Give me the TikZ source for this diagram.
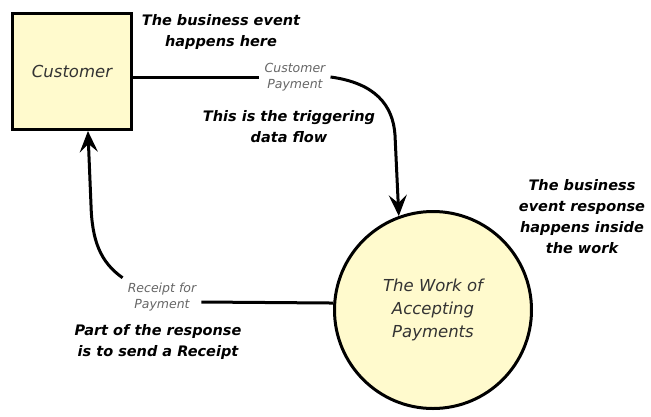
\documentclass[tikz,border=0pt]{standalone}
\usepackage{fontspec}
\setmainfont{DejaVu Sans}
\usetikzlibrary{arrows.meta}
\definecolor{paleyellow}{RGB}{255,250,205}
\tikzset{
  flow/.style={line width=3pt},
  flowarrow/.style={flow,-{Stealth[length=21pt,width=18pt,inset=8pt]}},
  note/.style={align=center,font=\fontsize{14.5}{21}\selectfont\bfseries\itshape},
  flowlabel/.style={align=center,text=black!60,inner sep=5pt,
    font=\fontsize{12.5}{16}\selectfont\itshape},
  process/.style={draw,line width=3pt,fill=paleyellow,text=black!80,align=center,
    font=\fontsize{16.5}{23}\selectfont\itshape},
}
\begin{document}
\begin{tikzpicture}[x=1pt,y=-1pt]
  \useasboundingbox (0,0) rectangle (651,416);
  \node (cust) [process,minimum width=119pt,minimum height=116pt] at (72,71.5) {Customer};
  \node (work) [process,circle,inner sep=0pt,minimum size=197pt] at (433,310)
    {The Work of\\Accepting\\Payments};
  \node (pay) [flowlabel] at (295,77) {Customer\\Payment};
  \node (rcpt) [flowlabel] at (162,297) {Receipt for\\Payment};
  \node (evnote) [note] at (221,32) {The business event\\happens here};
  \node (trignote) [note] at (289,127) {This is the triggering\\data flow};
  \node (worknote) [note] at (582,217) {The business\\event response\\happens inside\\the work};
  \node (rcptnote) [note] at (158,342) {Part of the response\\is to send a Receipt};
  \draw [flow] (cust.east |- pay.west) -- (pay.west);
  \draw [flowarrow] (pay.east) .. controls (375,83) and (393,105) .. (395,135) -- (work.110);
  \draw [flow] (work.176) -- ([yshift=-5pt]rcpt.east);
  \draw [flowarrow] (rcpt.north west) .. controls (100,262) and (92,240) .. (91,205) -- (cust.-75);
\end{tikzpicture}
\end{document}
